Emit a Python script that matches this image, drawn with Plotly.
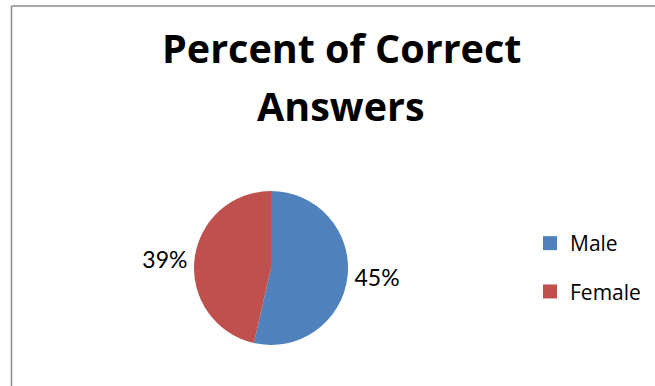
import plotly.graph_objects as go

categories = ["Male", "Female"]
values = [45, 39]
colors = ["#4F81BD", "#C0504D"]
title_lines = ["Percent of Correct", "Answers"]

W, H = 655, 386

fig = go.Figure()
fig.add_trace(go.Pie(
    labels=categories, values=values, sort=False, direction="clockwise", rotation=0,
    marker=dict(colors=colors, line=dict(width=0)),
    texttemplate="%{value}%", textposition="outside",
    textfont=dict(family="Lato", size=23, color="black"),
    showlegend=False,
    domain=dict(x=[194 / W, 348 / W], y=[1 - 345 / H, 1 - 191 / H]),
))
for c, col in zip(categories, colors):
    fig.add_trace(go.Scatter(
        x=[None], y=[None], mode="markers", name=c, legendgroup=c,
        marker=dict(symbol="square", size=14, color=col),
    ))

title_y = [1 - 48 / H, 1 - 106 / H]
for t, yy in zip(title_lines, title_y):
    fig.add_annotation(text="<b>%s</b>" % t, x=341 / W, y=yy, xref="paper", yref="paper",
                       xanchor="center", yanchor="middle", showarrow=False,
                       font=dict(family="Open Sans", size=39.5, color="black"))

fig.add_shape(type="line", xref="paper", yref="paper", x0=11.5 / W, x1=11.5 / W, y0=0, y1=1 - 6 / H,
              line=dict(color="#898989", width=1.5))
fig.add_shape(type="line", xref="paper", yref="paper", x0=11.5 / W, x1=1, y0=1 - 6 / H, y1=1 - 6 / H,
              line=dict(color="#898989", width=1.5))

fig.update_layout(
    width=W, height=H, margin=dict(l=0, r=0, t=0, b=0),
    paper_bgcolor="white", plot_bgcolor="white",
    xaxis=dict(visible=False), yaxis=dict(visible=False),
    showlegend=True,
    legend=dict(x=530 / W, y=1 - 223 / H, xanchor="left", yanchor="top",
                font=dict(family="Open Sans", size=21, color="black"),
                tracegroupgap=18, bgcolor="rgba(0,0,0,0)"),
)
fig.write_html("out.html")
